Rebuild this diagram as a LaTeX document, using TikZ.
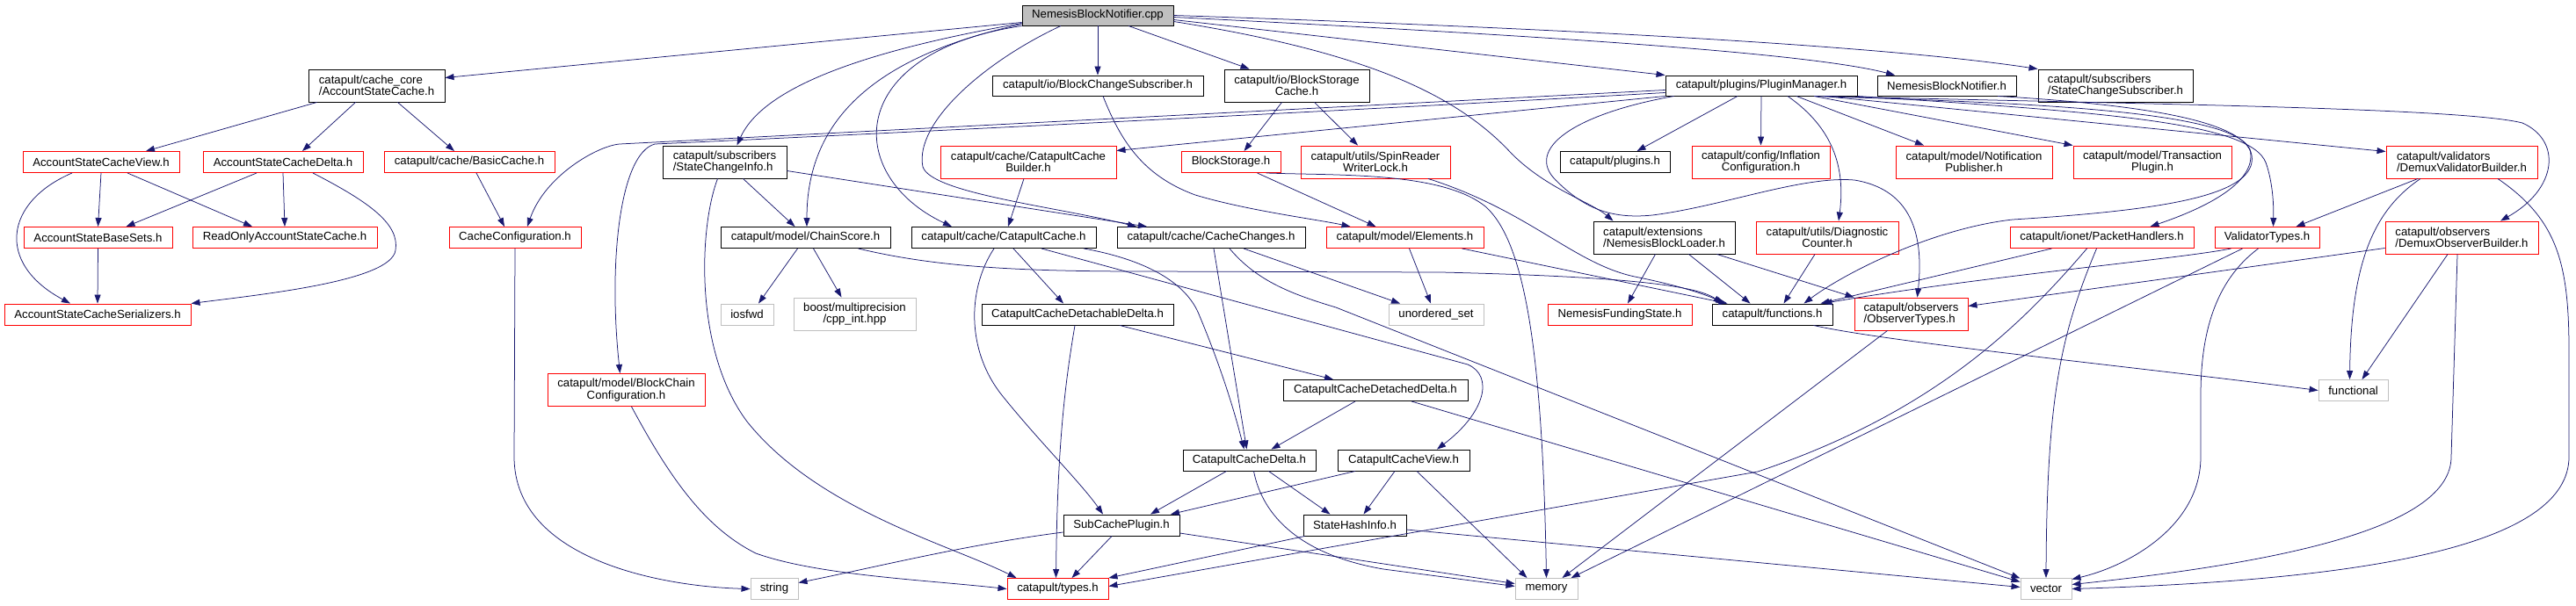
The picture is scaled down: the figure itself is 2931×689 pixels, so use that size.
\documentclass[tikz,border=0pt]{standalone}
\usepackage{fontspec}
\setmainfont{Liberation Sans}
\usetikzlibrary{arrows.meta}
\definecolor{dxblue}{HTML}{191970}
\definecolor{dxred}{HTML}{FF0000}
\definecolor{dxgray}{HTML}{BFBFBF}
\newcommand\dxfont{\fontsize{13.2pt}{13.4pt}\selectfont}
\tikzset{
  nd/.style={rectangle, line width=0.95pt, inner sep=0pt, font=\dxfont, align=center},
  bk/.style={nd, draw=black},
  rd/.style={nd, draw=dxred},
  gy/.style={nd, draw=dxgray},
  rootbox/.style={nd, draw=black, fill=dxgray},
  lft/.style={align=left},
  sz/.style 2 args={minimum width=#1pt, minimum height=#2pt},
  dep/.style={draw=dxblue, line width=0.75pt, -{Triangle[length=10pt,width=7pt]}},
}
\begin{document}
\begin{tikzpicture}[x=1pt,y=-1pt]
\path[fill=white, use as bounding box] (0,0) rectangle (2931,689);

% row 0
\node[rootbox, sz={172}{23}] (nbncpp) at (1249,17.5) {NemesisBlockNotifier.cpp};
% row 1
\node[bk, lft, sz={155}{37}] (asc) at (428.5,97.5) {catapult/cache\_core\\/AccountStateCache.h};
\node[bk, sz={240}{23}] (bcs) at (1249,97.5) {catapult/io/BlockChangeSubscriber.h};
\node[bk, sz={165}{37}] (bsc) at (1475.5,97.5) {catapult/io/BlockStorage\\Cache.h};
\node[bk, sz={218}{23}] (pm) at (2004,97.5) {catapult/plugins/PluginManager.h};
\node[bk, sz={158}{23}] (nbnh) at (2215,97.5) {NemesisBlockNotifier.h};
\node[bk, lft, sz={176}{37}] (scs) at (2407,97.5) {catapult/subscribers\\/StateChangeSubscriber.h};
% row 2
\node[rd, sz={178}{24}] (ascv) at (115,184.5) {AccountStateCacheView.h};
\node[rd, sz={182}{24}] (ascd) at (322,184.5) {AccountStateCacheDelta.h};
\node[rd, sz={194}{24}] (basic) at (534,184.5) {catapult/cache/BasicCache.h};
\node[bk, lft, sz={141}{37}] (sci) at (824.5,184.5) {catapult/subscribers\\/StateChangeInfo.h};
\node[rd, sz={200}{37}] (ccb) at (1170,184.5) {catapult/cache/CatapultCache\\Builder.h};
\node[rd, sz={113}{24}] (bstor) at (1400.5,184.5) {BlockStorage.h};
\node[rd, sz={170}{37}] (srwl) at (1565,184.5) {catapult/utils/SpinReader\\WriterLock.h};
\node[bk, sz={125}{24}] (plugins) at (1837.5,184.5) {catapult/plugins.h};
\node[rd, sz={157}{37}] (infl) at (2003.5,184.5) {catapult/config/Inflation\\Configuration.h};
\node[rd, sz={178}{37}] (notif) at (2246,184.5) {catapult/model/Notification\\Publisher.h};
\node[rd, sz={180}{37}] (txp) at (2449,184.5) {catapult/model/Transaction\\Plugin.h};
\node[rd, lft, sz={172}{37}] (dvb) at (2801,184.5) {catapult/validators\\/DemuxValidatorBuilder.h};
% row 3
\node[rd, sz={169}{24}] (asbs) at (111.5,270.5) {AccountStateBaseSets.h};
\node[rd, sz={210}{24}] (roasc) at (324,270.5) {ReadOnlyAccountStateCache.h};
\node[rd, sz={150}{24}] (cconf) at (586,270.5) {CacheConfiguration.h};
\node[bk, sz={193}{24}] (chain) at (916.5,270.5) {catapult/model/ChainScore.h};
\node[bk, sz={210}{24}] (ccache) at (1142,270.5) {catapult/cache/CatapultCache.h};
\node[bk, sz={214}{24}] (cchg) at (1378,270.5) {catapult/cache/CacheChanges.h};
\node[rd, sz={179}{24}] (elem) at (1598.5,270.5) {catapult/model/Elements.h};
\node[bk, lft, sz={161}{37}] (nbl) at (1893.5,270.5) {catapult/extensions\\/NemesisBlockLoader.h};
\node[rd, sz={162}{37}] (diag) at (2079,270.5) {catapult/utils/Diagnostic\\Counter.h};
\node[rd, sz={209}{24}] (pkt) at (2391.5,270.5) {catapult/ionet/PacketHandlers.h};
\node[rd, sz={119}{24}] (vtyp) at (2579.5,270.5) {ValidatorTypes.h};
\node[rd, lft, sz={174}{37}] (dob) at (2801,270.5) {catapult/observers\\/DemuxObserverBuilder.h};
% row 4
\node[rd, sz={212}{24}] (ascs) at (111,358) {AccountStateCacheSerializers.h};
\node[gy, sz={60}{24}] (iosfwd) at (850,358) {iosfwd};
\node[gy, sz={139}{37}] (cppint) at (972.5,357.5) {boost/multiprecision\\/cpp\_int.hpp};
\node[bk, sz={218}{24}] (ccdt) at (1226,358) {CatapultCacheDetachableDelta.h};
\node[gy, sz={108}{24}] (uset) at (1634,358) {unordered\_set};
\node[rd, sz={164}{24}] (nfs) at (1843,358) {NemesisFundingState.h};
\node[bk, sz={137}{24}] (func) at (2016.5,358) {catapult/functions.h};
\node[rd, lft, sz={129}{37}] (obst) at (2174.5,357.5) {catapult/observers\\/ObserverTypes.h};
% row 5
\node[rd, sz={179}{37}] (bcc) at (712.5,444) {catapult/model/BlockChain\\Configuration.h};
\node[bk, sz={210}{24}] (ccdd) at (1565,444.5) {CatapultCacheDetachedDelta.h};
\node[gy, sz={79}{24}] (functional) at (2677.5,444.5) {functional};
% row 6
\node[bk, sz={151}{24}] (ccdelta) at (1421.5,524) {CatapultCacheDelta.h};
\node[bk, sz={150}{24}] (ccview) at (1597,524) {CatapultCacheView.h};
% row 7
\node[bk, sz={132}{24}] (scp) at (1276,598) {SubCachePlugin.h};
\node[bk, sz={117}{24}] (shi) at (1541.5,598) {StateHashInfo.h};
% row 8
\node[gy, sz={54}{24}] (str) at (881,670.5) {string};
\node[rd, sz={115}{24}] (types) at (1203.5,670.5) {catapult/types.h};
\node[gy, sz={71}{24}] (mem) at (1759.5,670.5) {memory};
\node[gy, sz={58}{24}] (vec) at (2328,670.5) {vector};

% ---- edges from NemesisBlockNotifier.cpp
\draw[dep] ([yshift=-8pt]nbncpp.west) -- ([yshift=9pt]asc.east);
\draw[dep] ([yshift=-9pt]nbncpp.west) .. controls (1000,55) and (870,95) .. ([xshift=14pt]sci.north);
\draw[dep] ([yshift=-10pt]nbncpp.west) .. controls (990,65) and (918,140) .. ([xshift=1.5pt]chain.north);
\draw[dep] (nbncpp.south west) .. controls (960,60) and (960,200) .. ([xshift=-59pt]ccache.north);
\draw[dep] ([xshift=-42pt]nbncpp.south) .. controls (1120,70) and (1040,140) .. (1050,190) .. controls (1060,220) and (1200,235) .. ([xshift=-85pt]cchg.north);
\draw[dep] (nbncpp.south) -- (bcs.north);
\draw[dep] ([xshift=35pt]nbncpp.south) -- ([xshift=-54pt]bsc.north);
\draw[dep] ([yshift=-7pt]nbncpp.east) .. controls (1560,60) and (1660,110) .. (1720,175) .. controls (1760,215) and (1810,230) .. ([xshift=-58pt]nbl.north);
\draw[dep] ([yshift=-5pt]nbncpp.east) -- (pm.north west);
\draw[dep] ([yshift=-2pt]nbncpp.east) .. controls (1700,38) and (2050,58) .. ([xshift=-59pt]nbnh.north);
\draw[dep] (nbncpp.east) .. controls (1800,33) and (2150,53) .. (scs.north west);

% ---- edges from PluginManager.h
\draw[dep] ([yshift=-5pt]pm.west) .. controls (1500,123) and (900,154) .. (705,164) .. controls (680,166) and (620,200) .. ([xshift=14pt]cconf.north);
\draw[dep] ([yshift=-8pt]pm.west) .. controls (1500,128) and (900,157) .. (745,164) .. controls (705,175) and (692,300) .. ([xshift=-7pt]bcc.north);
\draw[dep] (pm.south west) -- ([yshift=-6pt]ccb.north east);
\draw[dep] ([xshift=10pt]pm.south west) .. controls (1790,130) and (1735,170) .. (1770,205) .. controls (1800,235) and (1830,250) .. (1880,245) .. controls (1960,235) and (2050,200) .. (2110,205) .. controls (2170,215) and (2190,260) .. ([xshift=7pt]obst.north);
\draw[dep] ([xshift=-27pt]pm.south) -- ([xshift=25pt]plugins.north);
\draw[dep] (pm.south) -- (infl.north);
\draw[dep] ([xshift=30pt]pm.south) .. controls (2085,145) and (2100,190) .. ([xshift=13pt]diag.north);
\draw[dep] ([xshift=40pt]pm.south) -- ([xshift=-57pt]notif.north);
\draw[dep] ([xshift=60pt]pm.south) -- (txp.north west);
\draw[dep] ([xshift=71pt]pm.south) -- ([yshift=-7pt]dvb.north west);
\draw[dep] ([xshift=72pt]pm.south) .. controls (2400,118) and (2800,122) .. (2870,140) .. controls (2915,160) and (2910,215) .. ([xshift=44pt]dob.north);
\draw[dep] (pm.south east) .. controls (2400,128) and (2560,140) .. (2578,185) .. controls (2587,210) and (2587,240) .. ([xshift=7pt]vtyp.north);
\draw[dep] ([xshift=60pt]pm.south) .. controls (2300,117) and (2540,125) .. (2560,170) .. controls (2570,210) and (2500,240) .. ([xshift=55pt]pkt.north);

% ---- NemesisBlockNotifier.h
\draw[dep] ([xshift=58pt]nbnh.south) .. controls (2450,120) and (2570,140) .. (2562,185) .. controls (2555,225) and (2450,240) .. (2290,250) .. controls (2200,260) and (2100,310) .. ([xshift=36pt]func.north);

% ---- AccountStateCache
\draw[dep] ([xshift=-68pt]asc.south) -- ([xshift=51pt]ascv.north);
\draw[dep] ([xshift=-24pt]asc.south) -- ([xshift=22pt]ascd.north);
\draw[dep] ([xshift=24pt]asc.south) -- ([xshift=-17pt]basic.north);
\draw[dep] (ascv.south) -- (asbs.north);
\draw[dep] ([xshift=30pt]ascv.south) -- ([xshift=-37pt]roasc.north);
\draw[dep] ([xshift=-33pt]ascv.south) .. controls (5,230) and (-5,300) .. ([xshift=-31pt]ascs.north);
\draw[dep] ([xshift=-30pt]ascd.south) -- ([xshift=32pt]asbs.north);
\draw[dep] (ascd.south) -- (roasc.north);
\draw[dep] ([xshift=34pt]ascd.south) .. controls (420,230) and (455,255) .. (450,285) .. controls (445,320) and (300,335) .. (ascs.north east);
\draw[dep] (asbs.south) -- (ascs.north);
\draw[dep] ([xshift=8pt]basic.south) -- ([xshift=-12pt]cconf.north);
\draw[dep] (cconf.south) -- (585,520) .. controls (585,640) and (760,668) .. (str.west);

% ---- StateChangeInfo
\draw[dep] ([xshift=21pt]sci.south) -- ([xshift=-12pt]chain.north);
\draw[dep] ([yshift=-10pt]sci.east) -- ([xshift=-73pt]cchg.north);
\draw[dep] ([xshift=-8pt]sci.south) .. controls (795,260) and (790,400) .. (850,480) .. controls (930,580) and (1080,620) .. ([xshift=-47pt]types.north);

% ---- ChainScore
\draw[dep] ([xshift=-9pt]chain.south) -- ([xshift=13pt]iosfwd.north);
\draw[dep] ([xshift=9pt]chain.south) -- ([xshift=-15pt]cppint.north);
\draw[dep] ([xshift=60pt]chain.south) .. controls (1060,303) and (1150,309) .. (1300,309) -- (1640,310) .. controls (1850,315) and (1930,325) .. ([xshift=-57pt]func.north);

% ---- CatapultCacheBuilder / CatapultCache
\draw[dep] ([xshift=-5pt]ccb.south) -- ([xshift=5pt]ccache.north);
\draw[dep] ([xshift=11pt]ccache.south) -- ([xshift=-16pt]ccdt.north);
\draw[dep] ([xshift=91pt]ccache.south) .. controls (1300,295) and (1350,320) .. (1365,360) .. controls (1390,420) and (1405,470) .. ([xshift=-6pt]ccdelta.north);
\draw[dep] ([xshift=-11pt]ccache.south) .. controls (1100,330) and (1100,400) .. (1140,450) .. controls (1180,500) and (1230,550) .. ([xshift=-21pt]scp.north);
\draw[dep] ([xshift=43pt]ccache.south) -- (1670,415) .. controls (1700,428) and (1690,470) .. ([xshift=38pt]ccview.north);

% ---- CacheChanges
\draw[dep] ([xshift=3pt]cchg.south) -- ([xshift=-3pt]ccdelta.north);
\draw[dep] ([xshift=37pt]cchg.south) -- ([xshift=-41pt]uset.north);
\draw[dep] ([xshift=21pt]cchg.south) .. controls (1430,320) and (1470,335) .. (1520,350) -- ([yshift=12pt]vec.west);

% ---- Elements, BlockChangeSubscriber, BlockStorageCache, BlockStorage
\draw[dep] ([xshift=5pt]elem.south) -- ([xshift=-6pt]uset.north);
\draw[dep] ([xshift=65pt]elem.south) -- ([xshift=-51pt]func.north);
\draw[dep] ([xshift=6pt]bcs.south) .. controls (1275,160) and (1300,200) .. (1360,222) .. controls (1420,240) and (1500,250) .. ([xshift=-62pt]elem.north);
\draw[dep] ([xshift=-17pt]bsc.south) -- ([xshift=15pt]bstor.north);
\draw[dep] ([xshift=20pt]bsc.south) -- ([xshift=-20pt]srwl.north);
\draw[dep] ([xshift=30pt]bstor.south) -- ([xshift=-33pt]elem.north);
\draw[dep] ([xshift=40pt]bstor.south) .. controls (1520,200) and (1640,195) .. (1690,235) .. controls (1735,275) and (1755,400) .. (mem.north);
\draw[dep] ([xshift=60pt]srwl.south) .. controls (1740,240) and (1790,300) .. (1860,315) .. controls (1910,325) and (1940,335) .. ([xshift=-54pt]func.north);

% ---- NemesisBlockLoader, DiagnosticCounter, ObserverTypes, functions
\draw[dep] ([xshift=-10pt]nbl.south) -- ([xshift=9pt]nfs.north);
\draw[dep] ([xshift=28pt]nbl.south) -- ([xshift=-25pt]func.north);
\draw[dep] ([xshift=60pt]nbl.south) -- (obst.north west);
\draw[dep] ([xshift=-14pt]diag.south) -- ([xshift=13pt]func.north);
\draw[dep] ([xshift=-27pt]obst.south) -- ([xshift=18pt]mem.north);
\draw[dep] ([xshift=47pt]func.south) .. controls (2150,390) and (2450,420) .. (functional.west);

% ---- PacketHandlers, ValidatorTypes
\draw[dep] ([xshift=-57pt]pkt.south) -- ([xshift=55pt]func.north);
\draw[dep] ([xshift=-17pt]pkt.south) .. controls (2300,370) and (2200,470) .. (2000,537) -- ([yshift=3pt]types.east);
\draw[dep] ([xshift=-6pt]pkt.south) .. controls (2345,380) and (2329,450) .. (vec.north);
\draw[dep] ([xshift=-41pt]vtyp.south) .. controls (2480,295) and (2250,315) .. ([xshift=58pt]func.north);
\draw[dep] ([xshift=-28pt]vtyp.south) -- ([xshift=28pt]mem.north);
\draw[dep] ([xshift=-10pt]vtyp.south) .. controls (2520,320) and (2504,380) .. (2504,450) -- (2504,520) .. controls (2504,600) and (2420,645) .. ([yshift=11pt]vec.east);

% ---- DemuxValidatorBuilder, DemuxObserverBuilder
\draw[dep] ([xshift=-50pt]dvb.south) -- ([xshift=33pt]vtyp.north);
\draw[dep] ([xshift=-47pt]dvb.south) .. controls (2700,240) and (2675,300) .. ([xshift=-4pt]functional.north);
\draw[dep] ([xshift=41pt]dvb.south) .. controls (2910,250) and (2923,300) .. (2923,400) -- (2923,520) .. controls (2923,620) and (2700,660) .. (vec.east);
\draw[dep] ([yshift=-12pt]dob.west) -- ([yshift=9pt]obst.east);
\draw[dep] ([xshift=-16pt]dob.south) -- ([xshift=10pt]functional.north);
\draw[dep] ([xshift=-5pt]dob.south) -- (2789,520) .. controls (2789,600) and (2600,640) .. ([yshift=5pt]vec.east);

% ---- Detachable / Detached delta
\draw[dep] ([xshift=-3pt]ccdt.south) .. controls (1213,430) and (1203,500) .. ([xshift=-2pt]types.north);
\draw[dep] ([xshift=48pt]ccdt.south) -- ([xshift=-48pt]ccdd.north);
\draw[dep] ([xshift=-23pt]ccdd.south) -- ([xshift=25pt]ccdelta.north);
\draw[dep] ([xshift=41pt]ccdd.south) -- ([yshift=8pt]vec.west);

% ---- CatapultCacheDelta / View
\draw[dep] ([xshift=-26pt]ccdelta.south) -- ([xshift=33pt]scp.north);
\draw[dep] ([xshift=22pt]ccdelta.south) -- ([xshift=-28pt]shi.north);
\draw[dep] ([xshift=5pt]ccdelta.south) .. controls (1435,580) and (1470,630) .. (1574,648) -- ([yshift=3pt]mem.west);
\draw[dep] ([xshift=-55pt]ccview.south) -- ([xshift=56pt]scp.north);
\draw[dep] ([xshift=-10pt]ccview.south) -- ([xshift=10pt]shi.north);
\draw[dep] ([xshift=15pt]ccview.south) -- ([xshift=-22pt]mem.north);

% ---- SubCachePlugin, StateHashInfo, BlockChainConfiguration
\draw[dep] ([yshift=-8pt]scp.west) .. controls (1100,620) and (1000,645) .. ([yshift=7pt]str.east);
\draw[dep] ([xshift=-11pt]scp.south) -- ([xshift=16pt]types.north);
\draw[dep] ([yshift=-9pt]scp.east) -- ([yshift=6pt]mem.west);
\draw[dep] ([xshift=-57pt]shi.south) -- (types.north east);
\draw[dep] ([yshift=-5pt]shi.east) -- ([yshift=2pt]vec.west);
\draw[dep] ([xshift=6pt]bcc.south) .. controls (760,540) and (800,600) .. (860,630) .. controls (930,655) and (1050,660) .. (types.west);
\end{tikzpicture}
\end{document}
